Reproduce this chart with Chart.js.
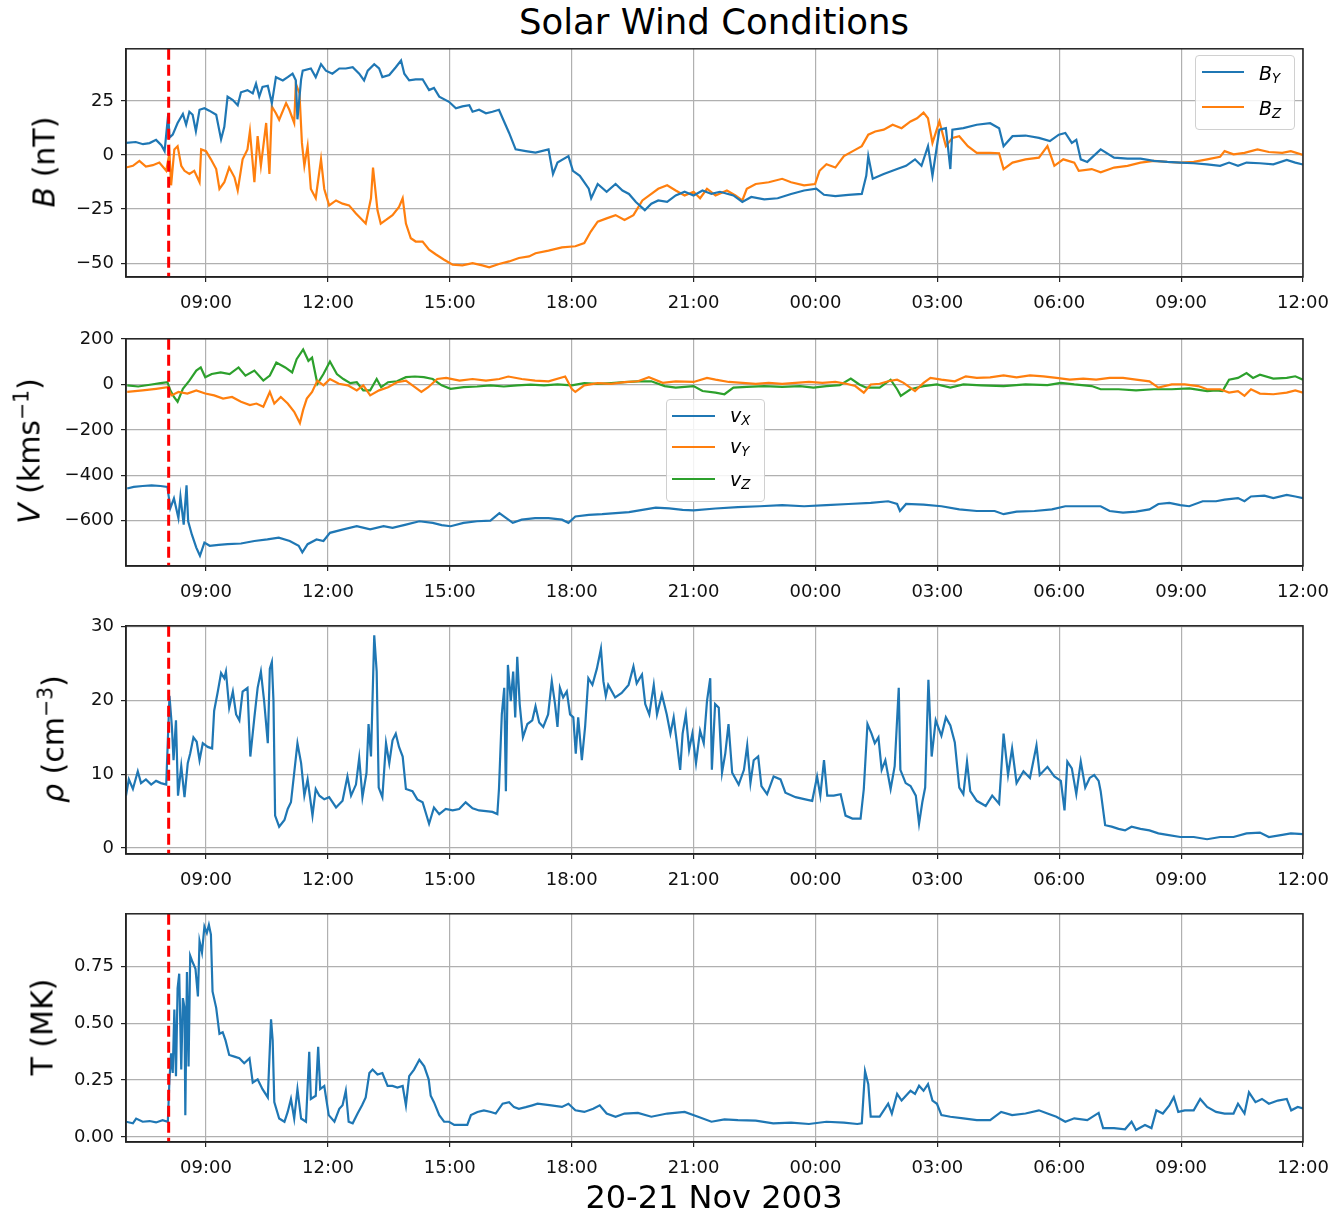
<!DOCTYPE html>
<html>
<head>
<meta charset="utf-8">
<script src="https://cdn.jsdelivr.net/npm/chart.js@4.4.1/dist/chart.umd.min.js"></script>
<style>
  body { margin: 0; background: #fff; }
  #page { position: relative; width: 1344px; height: 1213px; font-family: "DejaVu Sans", sans-serif; color: #000; }
  canvas { position: absolute; left: 0; }
  .txt { position: absolute; white-space: nowrap; transform: translate(-50%, -50%); }
  .ylab { position: absolute; white-space: nowrap; font-size: 30px; transform: translate(-50%, -50%) rotate(-90deg); }
  .ylab sup { font-size: 0.68em; }
  .legend { position: absolute; border: 1px solid #d0d0d0; border-radius: 4px; background: rgba(255,255,255,0.85); }
  .lline { position: absolute; height: 2px; }
  .ltxt { position: absolute; font-size: 19px; font-style: italic; transform: translateY(-50%); }
  .ltxt sub { font-size: 0.7em; vertical-align: -0.3em; }
</style>
</head>
<body>
<div id="page">
  <div class="txt" style="left:714px; top:21px; font-size:35.5px;">Solar Wind Conditions</div>

  <canvas id="c1"></canvas>
  <canvas id="c2"></canvas>
  <canvas id="c3"></canvas>
  <canvas id="c4"></canvas>

  <div class="ylab" style="left:44px; top:162px;"><i>B</i> (nT)</div>
  <div class="ylab" style="left:28px; top:451px;"><i>V</i> (kms<sup>−1</sup>)</div>
  <div class="ylab" style="left:52px; top:739px;"><i>ρ</i> (cm<sup>−3</sup>)</div>
  <div class="ylab" style="left:42px; top:1027px;">T (MK)</div>

  <div class="legend" style="left:1195px; top:55px; width:98px; height:73px;"></div>
  <div class="lline" style="left:1202px; top:71px; width:42px; background:#1f77b4;"></div>
  <div class="ltxt" style="left:1259px; top:74px;">B<sub>Y</sub></div>
  <div class="lline" style="left:1202px; top:106px; width:42px; background:#ff7f0e;"></div>
  <div class="ltxt" style="left:1259px; top:109px;">B<sub>Z</sub></div>

  <div class="legend" style="left:666px; top:399px; width:97px; height:101px;"></div>
  <div class="lline" style="left:672px; top:415px; width:43px; background:#1f77b4;"></div>
  <div class="ltxt" style="left:730px; top:416px;">v<sub>X</sub></div>
  <div class="lline" style="left:672px; top:446px; width:43px; background:#ff7f0e;"></div>
  <div class="ltxt" style="left:730px; top:447px;">v<sub>Y</sub></div>
  <div class="lline" style="left:672px; top:478px; width:43px; background:#2ca02c;"></div>
  <div class="ltxt" style="left:730px; top:480px;">v<sub>Z</sub></div>

  <div class="txt" style="left:714px; top:1197px; font-size:32px;">20-21 Nov 2003</div>
</div>

<script>
// time in hours from 00:00 on 20 Nov 2003
var shockTime = 8.08;
var hourTicks = [9, 12, 15, 18, 21, 24, 27, 30, 33, 36];

var bTicks = [-50, -25, 0, 25];
var vTicks = [-600, -400, -200, 0, 200];
var rhoTicks = [0, 10, 20, 30];
var tempTicks = [0, 0.25, 0.5, 0.75];

// B_Y (nT)
var byHours = [7.03,7.27,7.45,7.61,7.77,7.9,7.98,8.07,8.1,8.18,8.3,8.43,8.51,8.59,8.67,8.75,8.84,8.96,9.08,9.25,9.37,9.45,9.53,9.66,9.78,9.86,10.02,10.15,10.23,10.31,10.39,10.52,10.62,10.72,10.89,11.01,11.13,11.21,11.25,11.34,11.38,11.58,11.7,11.83,11.95,12.11,12.28,12.44,12.61,12.77,12.89,12.98,13.14,13.26,13.34,13.51,13.67,13.8,13.88,14.0,14.16,14.33,14.49,14.61,14.74,14.98,15.15,15.31,15.48,15.56,15.72,15.89,16.05,16.21,16.3,16.46,16.62,16.87,17.11,17.43,17.54,17.65,17.92,18.03,18.2,18.42,18.48,18.64,18.86,19.08,19.25,19.41,19.58,19.8,19.96,20.13,20.35,20.56,20.78,21.0,21.22,21.44,21.65,21.98,22.2,22.42,22.74,23.07,23.4,23.72,24.02,24.21,24.49,24.81,25.14,25.25,25.3,25.41,25.68,26.01,26.23,26.45,26.61,26.77,26.88,27.05,27.21,27.32,27.37,27.64,27.97,28.3,28.52,28.63,28.85,29.17,29.5,29.77,29.99,30.15,30.31,30.42,30.53,30.69,31.02,31.35,31.68,32.0,32.33,32.66,32.98,33.31,33.64,33.96,34.18,34.4,34.61,34.94,35.27,35.6,35.81,36.0];
var byNT = [5.6,6,5,5.5,7,4.5,1.8,19,8,9.4,14.8,19,14,20,18.6,11,20.9,21.6,20.5,18.6,7.2,13,27,25.4,23,29,30,28.5,33,27,31.5,32,23.9,36,34.5,36,37.6,34.5,16.5,35,39,40,36,42,39,37.6,40,40,40.6,37.6,34.5,39,42,40,36,37,40.6,43.7,37.6,34.5,35,35,30,31,27,24.6,21.6,22.5,23,20,20.9,19.3,20,20.9,17,10.2,2.6,1.8,1.1,2.6,-8.8,-3.5,-0.5,-7.3,-9.6,-15.6,-20,-13.4,-17,-13.4,-16.4,-18,-21.7,-25.5,-22.5,-21,-21.7,-18.7,-17,-18.7,-16.4,-18,-17,-18.7,-21.7,-19.4,-20.5,-20,-18,-16.4,-15.6,-18.4,-19,-18.4,-18,-9.6,-0.5,-11,-8.8,-6.5,-5,-2,-5,4.1,-9.6,11.7,12.4,-6.5,11.7,12.4,14,14.7,12.4,4.1,8.7,9,7.9,6.4,9.4,10.2,5.6,7,-2,-3.2,2.6,-1.2,-1.7,-1.7,-2.7,-3.2,-3.5,-3.8,-4.3,-5,-3.5,-5,-3.5,-3.8,-4.3,-2.3,-3.5,-4.4];

// B_Z (nT)
var bzHours = [7.03,7.2,7.36,7.52,7.69,7.85,8.02,8.1,8.14,8.22,8.3,8.39,8.47,8.59,8.71,8.84,8.88,9.0,9.12,9.25,9.33,9.45,9.57,9.7,9.78,9.9,10.02,10.08,10.19,10.27,10.35,10.48,10.56,10.62,10.72,10.8,10.97,11.05,11.17,11.21,11.3,11.36,11.42,11.5,11.58,11.7,11.83,11.91,12.03,12.2,12.36,12.52,12.69,12.81,12.93,13.06,13.11,13.22,13.3,13.43,13.59,13.75,13.84,13.92,14.04,14.16,14.33,14.49,14.66,14.86,15.07,15.31,15.56,15.8,15.97,16.21,16.46,16.7,16.95,17.11,17.43,17.76,18.09,18.31,18.47,18.64,18.86,19.08,19.3,19.52,19.74,19.96,20.13,20.35,20.56,20.78,21.0,21.16,21.33,21.54,21.82,22.03,22.2,22.31,22.53,22.85,23.18,23.4,23.72,23.99,24.1,24.27,24.49,24.7,24.92,25.14,25.3,25.47,25.68,25.9,26.12,26.34,26.5,26.66,26.77,26.88,27.05,27.21,27.37,27.54,27.75,27.97,28.3,28.52,28.63,28.85,29.17,29.5,29.71,29.88,30.1,30.37,30.48,30.8,31.02,31.35,31.68,32.0,32.33,32.66,32.98,33.31,33.64,33.96,34.07,34.29,34.56,34.88,35.16,35.49,35.7,36.0];
var bzNT = [-5.8,-5,-2.7,-5.3,-4.7,-3.5,-7.3,1,-14,2.6,4.1,-5,-7.3,-8.8,-7.3,-12.6,2.6,1.8,-2,-6.5,-15.7,-12.6,-5.8,-10.3,-16.4,-2,2.6,11,-12.6,8.7,-5,14.8,-8.8,22.4,19.3,16.3,24,20.9,14.8,33,28.5,5.6,-5,4.1,-15.7,-20,-2,-15.7,-23.3,-21,-22.5,-23.3,-27,-29.4,-31.7,-20,-5.8,-25.6,-31.7,-30,-27.8,-24,-20,-31.7,-38.5,-40,-40,-43.8,-46,-48.4,-50.7,-51,-50,-51,-51.9,-50.4,-49.2,-47.6,-46.9,-45.4,-44.2,-42.7,-42.2,-40.7,-35.4,-30.8,-29.3,-27.8,-30,-27.8,-21,-18,-15.6,-14,-16.4,-18.7,-17,-20,-15.6,-18.7,-16.4,-18.7,-21,-15.6,-13.4,-12.6,-11,-12.6,-14,-13.4,-7.3,-4.3,-5.8,-0.5,1.8,4.1,9.4,10.9,11.7,14,12.4,15.5,17,19.6,17,5.6,15.5,4.1,7.9,8.7,4.1,1,1,0.8,-6.5,-3.5,-2,-1.2,4.1,-5,-2,-3.5,-7.3,-6.5,-8,-5.8,-5,-3.5,-2.7,-3.2,-3.5,-3.2,-2,-0.8,1.8,0.3,1,2.6,1.4,1,1.8,0];

// v_X (km/s)
var vxHours = [7.06,7.22,7.44,7.66,7.88,8.05,8.12,8.21,8.32,8.37,8.45,8.52,8.56,8.65,8.76,8.85,8.96,9.09,9.31,9.53,9.86,10.19,10.51,10.79,11.06,11.28,11.37,11.5,11.72,11.89,12.05,12.38,12.71,13.04,13.37,13.59,13.92,14.25,14.58,14.8,15.02,15.34,15.67,16.0,16.22,16.39,16.55,16.77,17.1,17.43,17.76,17.92,18.09,18.42,18.75,19.08,19.41,19.74,20.07,20.4,20.73,21.0,21.54,22.09,22.63,23.18,23.72,24.27,24.81,25.36,25.79,26.01,26.08,26.23,26.66,27.1,27.54,27.97,28.41,28.63,28.95,29.39,29.82,30.15,30.59,31.02,31.24,31.57,31.89,32.22,32.44,32.71,32.98,33.2,33.53,33.86,34.07,34.4,34.56,34.72,35.05,35.27,35.6,35.81,36.0];
var vxKms = [-458,-451,-447,-444,-447,-451,-545,-501,-588,-494,-617,-444,-602,-660,-718,-754,-696,-710,-706,-703,-700,-689,-682,-674,-689,-710,-739,-703,-682,-689,-653,-638,-624,-638,-624,-631,-617,-602,-609,-619,-624,-609,-602,-599,-566,-588,-609,-595,-588,-588,-595,-609,-581,-574,-571,-566,-562,-552,-542,-545,-552,-554,-546,-540,-536,-531,-536,-531,-526,-521,-514,-526,-557,-526,-529,-536,-550,-557,-557,-571,-560,-557,-550,-536,-536,-536,-557,-564,-560,-550,-526,-521,-531,-536,-514,-514,-507,-500,-514,-493,-489,-500,-486,-493,-500];

// v_Y (km/s)
var vyHours = [7.06,7.44,7.77,8.05,8.15,8.32,8.54,8.76,8.98,9.2,9.42,9.64,9.86,10.08,10.24,10.41,10.57,10.68,10.84,11.01,11.17,11.31,11.39,11.48,11.61,11.74,11.89,12.05,12.27,12.49,12.71,12.87,13.04,13.26,13.48,13.7,13.92,14.14,14.3,14.47,14.69,14.91,15.24,15.56,15.89,16.22,16.44,16.77,17.1,17.43,17.84,18.0,18.09,18.31,18.64,18.97,19.3,19.63,19.9,20.24,20.56,21.0,21.33,21.54,21.87,22.2,22.53,22.85,23.18,23.51,23.84,24.17,24.49,24.76,24.98,25.19,25.36,25.58,25.79,26.01,26.17,26.45,26.66,26.83,27.1,27.43,27.7,27.97,28.3,28.63,28.95,29.28,29.61,29.93,30.26,30.59,30.91,31.24,31.57,31.89,32.22,32.44,32.77,33.09,33.42,33.64,33.96,34.18,34.4,34.56,34.72,34.94,35.27,35.6,35.81,36.0];
var vyKms = [-33,-26,-19,-12,-48,-33,-40,-26,-40,-48,-62,-55,-76,-91,-84,-98,-33,-84,-55,-84,-120,-170,-112,-62,-33,17,-4,24,3,-4,-26,-4,-48,-26,-12,10,17,-12,-33,-12,24,29,17,24,17,24,35,24,17,14,35,-19,-33,-4,6,3,10,14,32,7,14,11,29,21,11,7,3,7,3,7,11,7,11,3,-7,-36,0,3,14,21,7,-29,7,29,21,14,36,29,31,40,31,40,36,29,21,26,21,29,29,21,14,-14,0,0,-7,-21,-21,-36,-29,-50,-21,-40,-43,-36,-26,-36];

// v_Z (km/s)
var vzHours = [7.06,7.33,7.66,7.88,8.05,8.12,8.21,8.3,8.43,8.59,8.76,8.87,8.98,9.14,9.36,9.58,9.8,9.97,10.19,10.41,10.57,10.73,10.95,11.12,11.23,11.39,11.52,11.61,11.74,11.89,12.05,12.22,12.38,12.55,12.71,12.87,13.04,13.2,13.31,13.48,13.7,13.92,14.14,14.36,14.58,14.8,15.02,15.34,15.67,16.0,16.33,16.66,16.99,17.32,17.65,18.0,18.31,18.64,18.97,19.3,19.63,19.96,20.29,20.56,21.0,21.22,21.54,21.76,21.98,22.31,22.74,23.18,23.62,23.95,24.27,24.6,24.87,25.08,25.25,25.58,25.85,26.01,26.1,26.34,26.66,26.99,27.32,27.64,28.08,28.63,29.17,29.71,30.04,30.37,30.8,31.02,31.46,31.89,32.33,32.77,33.2,33.64,33.86,34.02,34.18,34.4,34.61,34.77,34.94,35.27,35.6,35.81,36.0];
var vzKms = [-4,-9,0,6,10,-26,-55,-76,-19,17,61,75,32,46,53,46,75,39,61,17,39,97,75,53,111,154,104,118,3,46,101,46,24,6,10,-26,-26,24,-12,10,14,32,35,32,24,-4,-19,-12,-9,-4,-9,-4,-1,-4,0,-4,6,3,6,10,14,14,-7,-14,-7,-29,-36,-43,-14,-11,-7,-11,-7,-14,-7,-3,26,0,-14,-14,21,-21,-50,-21,-7,0,-14,0,-4,-7,0,-3,7,0,-7,-21,-21,-26,-21,-21,-17,-29,-26,-29,21,29,50,29,43,26,29,36,21];

// proton density (cm^-3)
var rhoHours = [7.03,7.1,7.2,7.32,7.4,7.52,7.65,7.77,7.89,8.02,8.1,8.16,8.2,8.26,8.31,8.39,8.47,8.55,8.61,8.69,8.77,8.84,8.92,9.04,9.15,9.2,9.29,9.37,9.45,9.49,9.57,9.66,9.74,9.82,9.9,10.02,10.09,10.19,10.27,10.35,10.43,10.52,10.57,10.62,10.66,10.7,10.8,10.93,11.01,11.09,11.17,11.25,11.34,11.42,11.5,11.62,11.7,11.79,11.91,12.03,12.2,12.36,12.48,12.57,12.69,12.77,12.85,12.95,13.0,13.06,13.14,13.2,13.25,13.34,13.43,13.51,13.59,13.67,13.75,13.84,13.92,14.08,14.2,14.33,14.49,14.61,14.74,14.9,15.07,15.23,15.39,15.56,15.72,15.89,16.05,16.17,16.21,16.28,16.34,16.38,16.43,16.5,16.56,16.61,16.66,16.72,16.8,16.91,17.03,17.11,17.2,17.3,17.42,17.51,17.59,17.65,17.71,17.79,17.88,17.96,18.04,18.1,18.16,18.25,18.33,18.41,18.51,18.62,18.72,18.78,18.84,18.9,19.07,19.23,19.4,19.52,19.6,19.73,19.81,19.91,20.02,20.1,20.22,20.34,20.43,20.51,20.59,20.67,20.73,20.81,20.89,20.97,21.06,21.16,21.25,21.33,21.41,21.45,21.53,21.62,21.7,21.78,21.86,21.95,22.11,22.24,22.32,22.4,22.48,22.59,22.67,22.81,22.97,23.14,23.26,23.51,23.75,23.92,24.04,24.12,24.21,24.29,24.45,24.62,24.74,24.91,25.11,25.19,25.28,25.38,25.46,25.55,25.63,25.72,25.85,25.95,26.05,26.09,26.22,26.34,26.47,26.55,26.63,26.7,26.78,26.86,26.96,27.1,27.21,27.32,27.43,27.54,27.64,27.73,27.81,27.97,28.19,28.35,28.52,28.63,28.74,28.84,28.95,29.12,29.28,29.44,29.52,29.71,29.88,30.04,30.13,30.2,30.31,30.42,30.53,30.64,30.75,30.86,30.97,31.02,31.13,31.29,31.46,31.62,31.78,32.0,32.22,32.44,32.66,32.98,33.31,33.64,33.96,34.29,34.61,34.94,35.16,35.49,35.7,36.0];
var rhoCm3 = [7.1,9.3,8,10.4,8.8,9.3,8.6,9.1,8.8,8.6,20.6,16.4,11.9,17.3,7.1,11.1,6.9,11.5,12.8,15,14.4,11.9,14.2,13.7,13.5,18.6,21.2,23.7,23,23.9,19,21.2,18.1,17.3,21.2,21.7,12.4,17.7,21.7,23.9,19.9,14.2,24.3,25.2,19.9,4.4,2.9,3.8,5.3,6.2,10.2,14.2,11.5,7.1,9.3,4.4,8,7.1,6.6,6.9,5.5,6.4,9.7,7.1,8.6,12.2,6.9,10.2,16.8,12.4,28.8,23.9,8.2,6.9,14.2,11.5,14.6,15.5,13.7,12.4,8,7.7,6.6,6.2,3.3,5.5,4.6,5.3,5.1,5.3,6.2,5.4,5.1,5,4.9,4.6,8,18.1,21.7,7.7,24.8,19.9,23.9,17.7,25.9,19.5,15,16.8,17.3,19.2,17,16.4,18.1,22.6,19.5,16.4,21.7,20.4,21.2,18.1,17.7,12.8,17.7,11.9,16.4,23,22.1,24.3,27,22.6,20.6,22.1,20.4,21,22.1,24.6,22.3,23.5,19.5,18.1,22.1,18.1,20.8,18.1,15.5,17.7,14.2,10.6,15.5,18.1,13.3,15.5,11.5,15.9,14.2,19.9,23,10.6,19.5,19,10.2,12.8,16.8,10.2,8.6,10.6,13.9,8.8,11.9,12.4,8.4,7.3,9.7,9.3,7.5,6.9,6.6,6.4,9.7,7.1,11.9,7.1,7.1,7.3,4.4,4,4,8,16.8,15.5,14.2,15,10.6,11.9,8,11.1,21.7,10.6,8.8,8.4,7.1,3.3,6.2,8.2,22.8,12.4,17.3,15.2,17.7,16.6,14.3,8.2,7.3,11.7,7.7,6.4,5.7,7.1,6,15.5,9.9,13.5,8.8,10.4,9.5,13.9,9.9,11,9.7,9.1,5.1,11.7,10.8,7.3,11.7,8.2,9.5,9.9,9.1,7.7,3.1,2.9,2.6,2.4,2.9,2.6,2.4,2,1.8,1.5,1.5,1.2,1.5,1.5,2,2.1,1.5,1.8,2,1.9];

// proton temperature (MK)
var tempHours = [7.03,7.2,7.28,7.44,7.61,7.77,7.93,8.06,8.1,8.14,8.18,8.22,8.26,8.3,8.34,8.39,8.43,8.47,8.49,8.53,8.57,8.61,8.67,8.74,8.8,8.84,8.9,8.96,9.02,9.07,9.12,9.16,9.25,9.33,9.41,9.48,9.57,9.7,9.82,9.94,10.07,10.15,10.27,10.39,10.52,10.6,10.64,10.68,10.8,10.93,11.01,11.09,11.17,11.25,11.34,11.46,11.54,11.58,11.7,11.76,11.81,11.91,12.02,12.16,12.28,12.36,12.44,12.51,12.61,12.73,12.84,12.93,13.02,13.1,13.22,13.34,13.47,13.59,13.71,13.84,13.92,14.0,14.12,14.25,14.37,14.48,14.53,14.61,14.74,14.86,14.98,15.11,15.27,15.43,15.52,15.68,15.84,16.01,16.13,16.3,16.46,16.58,16.7,16.87,17.03,17.16,17.45,17.76,17.92,18.09,18.31,18.53,18.69,18.86,19.08,19.3,19.63,19.96,20.35,20.78,21.11,21.44,21.76,22.09,22.53,22.96,23.4,23.84,24.27,24.7,25.03,25.14,25.22,25.3,25.36,25.58,25.79,25.88,26.01,26.12,26.34,26.45,26.55,26.66,26.77,26.88,26.99,27.1,27.32,27.64,27.97,28.3,28.57,28.84,29.17,29.5,29.71,29.93,30.15,30.37,30.69,30.97,31.08,31.35,31.62,31.78,31.89,32.11,32.27,32.39,32.55,32.71,32.82,32.93,33.09,33.31,33.47,33.64,33.86,34.07,34.29,34.4,34.56,34.67,34.83,34.99,35.16,35.38,35.6,35.71,35.87,36.0];
var tempMK = [0.067,0.06,0.081,0.067,0.07,0.064,0.074,0.067,0.253,0.367,0.281,0.56,0.267,0.653,0.717,0.296,0.61,0.567,0.096,0.724,0.31,0.796,0.767,0.739,0.617,0.86,0.81,0.924,0.896,0.931,0.889,0.639,0.567,0.453,0.46,0.424,0.36,0.353,0.346,0.324,0.346,0.239,0.253,0.21,0.174,0.517,0.424,0.153,0.081,0.067,0.11,0.167,0.081,0.21,0.081,0.067,0.374,0.167,0.181,0.396,0.21,0.224,0.096,0.067,0.124,0.139,0.203,0.067,0.06,0.103,0.139,0.174,0.281,0.296,0.274,0.281,0.224,0.224,0.217,0.224,0.139,0.267,0.296,0.339,0.31,0.253,0.181,0.153,0.096,0.067,0.067,0.053,0.053,0.053,0.096,0.11,0.117,0.11,0.103,0.146,0.153,0.131,0.124,0.131,0.139,0.146,0.14,0.132,0.146,0.117,0.11,0.124,0.139,0.103,0.089,0.103,0.106,0.089,0.103,0.11,0.089,0.067,0.077,0.074,0.072,0.06,0.063,0.057,0.067,0.063,0.057,0.06,0.289,0.232,0.089,0.089,0.146,0.103,0.189,0.16,0.203,0.189,0.225,0.203,0.232,0.16,0.146,0.096,0.089,0.082,0.074,0.074,0.11,0.096,0.103,0.117,0.103,0.089,0.067,0.082,0.074,0.106,0.039,0.039,0.034,0.067,0.031,0.053,0.039,0.117,0.103,0.139,0.175,0.11,0.117,0.117,0.167,0.132,0.11,0.103,0.103,0.146,0.103,0.196,0.153,0.167,0.146,0.16,0.167,0.117,0.132,0.125];

var blue = '#1f77b4', orange = '#ff7f0e', green = '#2ca02c';

function pts(hours, vals) {
  return hours.map(function (h, i) { return { x: h, y: vals[i] }; });
}

function line(hours, vals, color) {
  return { data: pts(hours, vals), borderColor: color, borderWidth: 2.2, pointRadius: 0, tension: 0, fill: false };
}

function hhmm(h) {
  var hh = h % 24;
  return (hh < 10 ? '0' : '') + hh + ':00';
}

function minus(s) { return String(s).replace('-', '\u2212'); }

// red dashed shock marker + full box frame
var decor = {
  id: 'decor',
  afterDatasetsDraw: function (chart) {
    var a = chart.chartArea, ctx = chart.ctx;
    var x = chart.scales.x.getPixelForValue(shockTime);
    ctx.save();
    ctx.strokeStyle = '#ff0000';
    ctx.lineWidth = 3;
    ctx.setLineDash([11, 5]);
    ctx.beginPath();
    ctx.moveTo(x, a.top);
    ctx.lineTo(x, a.bottom);
    ctx.stroke();
    ctx.restore();
  },
  afterDraw: function (chart) {
    var a = chart.chartArea, ctx = chart.ctx;
    ctx.save();
    ctx.strokeStyle = '#222';
    ctx.lineWidth = 1.5;
    ctx.strokeRect(a.left, a.top, a.right - a.left, a.bottom - a.top);
    ctx.restore();
  }
};

function panel(id, top, bottom, datasets, yMin, yMax, yTicks, yFmt) {
  var cv = document.getElementById(id);
  var cTop = top - 14;
  var cHeight = bottom + 46 - cTop;
  cv.style.top = cTop + 'px';
  cv.width = 1344;
  cv.height = cHeight;

  var tickFont = { family: 'DejaVu Sans', size: 18 };
  return new Chart(cv, {
    type: 'line',
    data: { datasets: datasets },
    plugins: [decor],
    options: {
      responsive: false,
      animation: false,
      devicePixelRatio: 1,
      layout: { padding: { top: 14, right: 41, left: 0, bottom: 0 } },
      plugins: { legend: { display: false }, tooltip: { enabled: false } },
      scales: {
        x: {
          type: 'linear', min: 7.03, max: 36,
          afterBuildTicks: function (s) { s.ticks = hourTicks.map(function (v) { return { value: v }; }); },
          afterFit: function (s) { s.height = 46; },
          ticks: { font: tickFont, color: '#111', padding: 11, autoSkip: false, maxRotation: 0,
                   callback: function (v) { return hhmm(v); } },
          grid: { color: '#b0b0b0', lineWidth: 1.2, tickColor: '#222', tickLength: 5 },
          border: { display: true, color: '#222', width: 1.5 }
        },
        y: {
          min: yMin, max: yMax,
          afterBuildTicks: function (s) { s.ticks = yTicks.map(function (v) { return { value: v }; }); },
          afterFit: function (s) { s.width = 126; },
          ticks: { font: tickFont, color: '#111', padding: 7, callback: yFmt },
          grid: { color: '#b0b0b0', lineWidth: 1.2, tickColor: '#222', tickLength: 5 },
          border: { display: true, color: '#222', width: 1.5 }
        }
      }
    }
  });
}

panel('c1', 45, 277, [line(byHours, byNT, blue), line(bzHours, bzNT, orange)],
  -56.4, 49.1, bTicks, function (v) { return minus(v); });

panel('c2', 335, 566, [line(vxHours, vxKms, blue), line(vyHours, vyKms, orange), line(vzHours, vzKms, green)],
  -799, 201, vTicks, function (v) { return minus(v); });

panel('c3', 622, 854, [line(rhoHours, rhoCm3, blue)],
  -0.8, 30.1, rhoTicks, function (v) { return minus(v); });

panel('c4', 910, 1142, [line(tempHours, tempMK, blue)],
  -0.022, 0.98, tempTicks, function (v) { return v.toFixed(2); });
</script>
</body>
</html>
